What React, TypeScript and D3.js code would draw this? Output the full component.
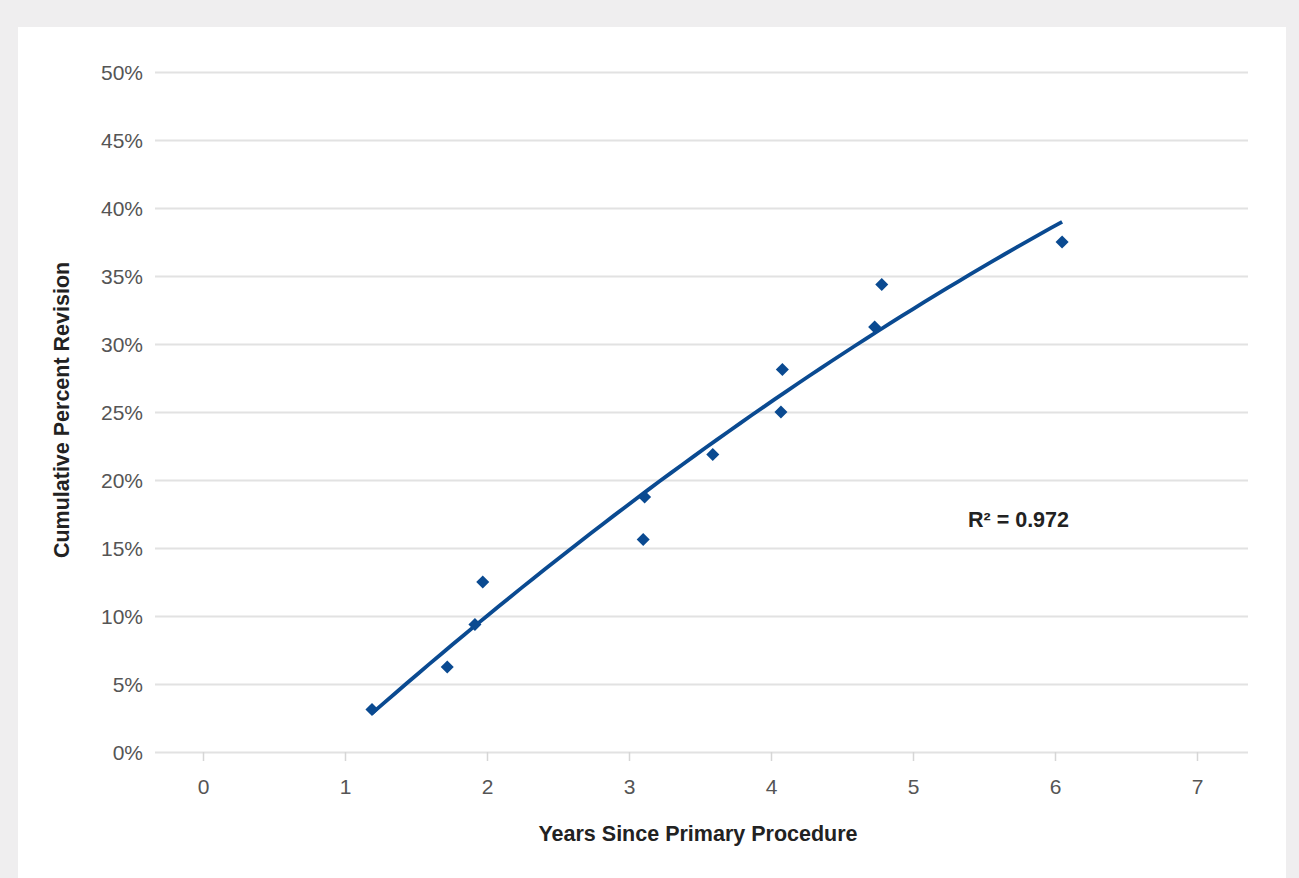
import React, { useEffect, useRef } from 'react';
import * as d3 from 'd3';

// years since primary procedure vs cumulative percent revision
const years = [1.19, 1.72, 1.915, 1.97, 3.1, 3.11, 3.59, 4.07, 4.08, 4.73, 4.78, 6.05];
const revision = [3.125, 6.25, 9.375, 12.5, 15.625, 18.75, 21.875, 25, 28.125, 31.25, 34.375, 37.5];
const xTicks = [0, 1, 2, 3, 4, 5, 6, 7];
const yTicks = [0, 5, 10, 15, 20, 25, 30, 35, 40, 45, 50];
const rSquaredLabel = 'R² = 0.972';

const W = 1299;
const H = 878;
const BLUE = '#0a4a91';
const FONT = 'Liberation Sans, Arial, Helvetica, sans-serif';

// least squares fit y = a + b x + c x^2
function quadFit(xs: number[], ys: number[]) {
  let s = [0, 0, 0, 0, 0];
  let t = [0, 0, 0];
  xs.forEach((x, i) => {
    for (let k = 0; k < 5; k++) s[k] += Math.pow(x, k);
    for (let k = 0; k < 3; k++) t[k] += ys[i] * Math.pow(x, k);
  });
  const m = [
    [s[0], s[1], s[2], t[0]],
    [s[1], s[2], s[3], t[1]],
    [s[2], s[3], s[4], t[2]],
  ];
  for (let i = 0; i < 3; i++) {
    for (let j = i + 1; j < 3; j++) {
      const f = m[j][i] / m[i][i];
      for (let k = i; k < 4; k++) m[j][k] -= f * m[i][k];
    }
  }
  const c = [0, 0, 0];
  for (let i = 2; i >= 0; i--) {
    let v = m[i][3];
    for (let k = i + 1; k < 3; k++) v -= m[i][k] * c[k];
    c[i] = v / m[i][i];
  }
  return (x: number) => c[0] + c[1] * x + c[2] * x * x;
}

function Chart() {
  const ref = useRef<SVGSVGElement>(null);

  useEffect(() => {
    const svg = d3.select(ref.current);
    svg.selectAll('*').remove();

    svg.append('rect').attr('width', W).attr('height', H).attr('fill', '#efeeef');
    svg.append('rect').attr('x', 18).attr('y', 27).attr('width', 1268).attr('height', H - 27).attr('fill', '#fff');

    const xScale = d3.scaleLinear().domain([0, 7]).range([203, 1197]);
    const yScale = d3.scaleLinear().domain([0, 50]).range([752, 72]);
    const gridLeft = 155;
    const gridRight = 1248;

    // horizontal gridlines + y labels
    const yAxis = d3.axisLeft(yScale)
      .tickValues(yTicks)
      .tickSize(-(gridRight - gridLeft))
      .tickPadding(12)
      .tickFormat(d => `${d}%`);
    const gy = svg.append('g').attr('transform', `translate(${gridLeft},0)`).call(yAxis);
    gy.select('.domain').remove();
    gy.selectAll('line').attr('stroke', '#e2e2e2').attr('stroke-width', 2);
    gy.selectAll('text')
      .attr('font-family', FONT)
      .attr('font-size', 21)
      .attr('fill', '#555')
      .attr('dy', '0.38em');

    // x ticks below the baseline
    const xAxis = d3.axisBottom(xScale)
      .tickValues(xTicks)
      .tickSize(9)
      .tickPadding(18)
      .tickFormat(d3.format('d'));
    const gx = svg.append('g').attr('transform', `translate(0,${yScale(0)})`).call(xAxis);
    gx.select('.domain').remove();
    gx.selectAll('line').attr('stroke', '#d6d6d6').attr('stroke-width', 1.5);
    gx.selectAll('text')
      .attr('font-family', FONT)
      .attr('font-size', 21)
      .attr('fill', '#555');

    // trend line
    const fit = quadFit(years, revision);
    const xMin = d3.min(years) as number;
    const xMax = d3.max(years) as number;
    const curveXs = d3.range(0, 61).map(i => xMin + (xMax - xMin) * i / 60);
    const line = d3.line<number>().x(d => xScale(d)).y(d => yScale(fit(d)));
    svg.append('path')
      .datum(curveXs)
      .attr('d', line)
      .attr('fill', 'none')
      .attr('stroke', BLUE)
      .attr('stroke-width', 3.8);

    // diamonds
    const diamond = d3.symbol().type(d3.symbolSquare).size(85);
    svg.append('g').selectAll('path')
      .data(years.map((x, i) => [x, revision[i]]))
      .enter()
      .append('path')
      .attr('d', diamond)
      .attr('transform', d => `translate(${xScale(d[0])},${yScale(d[1])}) rotate(45)`)
      .attr('fill', BLUE);

    // titles
    svg.append('text')
      .attr('x', 698).attr('y', 841)
      .attr('text-anchor', 'middle')
      .attr('font-family', FONT).attr('font-weight', 'bold').attr('font-size', 21.5)
      .attr('fill', '#222')
      .text('Years Since Primary Procedure');

    svg.append('text')
      .attr('transform', `translate(69,${yScale(25.15)}) rotate(-90)`)
      .attr('text-anchor', 'middle')
      .attr('font-family', FONT).attr('font-weight', 'bold').attr('font-size', 21.5)
      .attr('fill', '#222')
      .text('Cumulative Percent Revision');

    svg.append('text')
      .attr('x', 968).attr('y', 527)
      .attr('font-family', FONT).attr('font-weight', 'bold').attr('font-size', 21.5)
      .attr('fill', '#222')
      .text(rSquaredLabel);
  }, []);

  return <svg ref={ref} width={W} height={H} style={{ position: 'absolute', left: 0, top: 0 }} />;
}

export default function App() {
  return <Chart />;
}
